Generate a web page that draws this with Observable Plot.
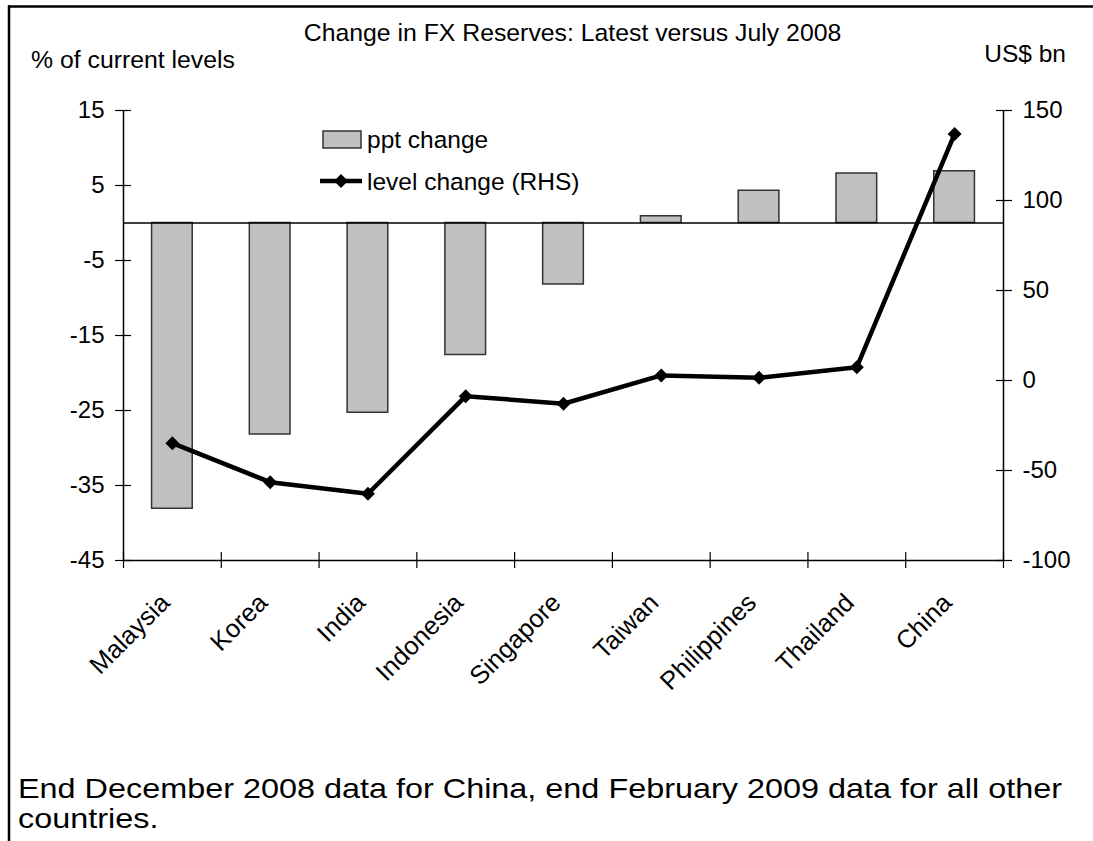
<!DOCTYPE html>
<html>
<head>
<meta charset="utf-8">
<script src="https://cdn.jsdelivr.net/npm/d3@7"></script>
<script src="https://cdn.jsdelivr.net/npm/@observablehq/plot@0.6"></script>
<style>
  html, body { margin: 0; padding: 0; background: #fff; }
  #wrap { position: relative; width: 1093px; height: 841px; overflow: hidden; background: #fff; font-family: "Liberation Sans", Arial, sans-serif; }
  #chart { position: absolute; left: 0; top: 0; }
  #overlay { position: absolute; left: 0; top: 0; pointer-events: none; }
</style>
</head>
<body>
<div id="wrap">
  <div id="chart"></div>
  <svg id="overlay" width="1093" height="841"></svg>
</div>
<script>
// ---- data ----
const categories = ["Malaysia", "Korea", "India", "Indonesia", "Singapore", "Taiwan", "Philippines", "Thailand", "China"];
const pptChange = [-38.1, -28.2, -25.3, -17.6, -8.2, 0.9, 4.3, 6.6, 6.9];
const levelChange = [-34.8, -56.5, -62.9, -8.7, -12.9, 2.8, 1.5, 7.4, 137];
const leftTicks = [-45, -35, -25, -15, -5, 5, 15];
const rightTicks = [-100, -50, 0, 50, 100, 150];
const leftDomain = [-45, 15];
const rightDomain = [-100, 150];

const title = "Change in FX Reserves: Latest versus July 2008";
const leftUnit = "% of current levels";
const rightUnit = "US$ bn";
const legendBar = "ppt change";
const legendLine = "level change (RHS)";
const captionLines = ["End December 2008 data for China, end February 2009 data for all other", "countries."];

// map right-hand values onto the left scale
const toLeft = r => leftDomain[0] + (r - rightDomain[0]) * (leftDomain[1] - leftDomain[0]) / (rightDomain[1] - rightDomain[0]);
const toRight = l => rightDomain[0] + (l - leftDomain[0]) * (rightDomain[1] - rightDomain[0]) / (leftDomain[1] - leftDomain[0]);

const data = categories.map((c, i) => ({i, c, ppt: pptChange[i], level: levelChange[i]}));

const W = 1093, H = 700;
const mL = 123, mR = 90, mT = 110, mB = 140;
const step = (W - mL - mR) / categories.length;
const barInset = step * 0.292;

const plot = Plot.plot({
  width: W, height: H,
  marginLeft: mL, marginRight: mR, marginTop: mT, marginBottom: mB,
  style: {fontFamily: "'Liberation Sans', Arial, sans-serif", fontSize: "24px", color: "#000", background: "transparent"},
  x: {type: "linear", domain: [0, categories.length], axis: null},
  y: {domain: leftDomain, axis: null},
  marks: [
    Plot.rectY(data, {x1: d => d.i, x2: d => d.i + 1, y1: 0, y2: d => d.ppt, fill: "#c0c0c0", stroke: "#333", strokeWidth: 1.5, insetLeft: barInset, insetRight: barInset}),
    Plot.ruleY([0], {stroke: "#000", strokeWidth: 1.5}),
    Plot.ruleY([leftDomain[0]], {stroke: "#000", strokeWidth: 1.5}),
    Plot.ruleX([0, categories.length], {stroke: "#000", strokeWidth: 1.5}),
    // left axis: crossing ticks + labels
    Plot.axisY({ticks: leftTicks, anchor: "left", tickSize: 16, dx: 8, fill: "none", stroke: "#000", strokeWidth: 1.2, tickFormat: () => ""}),
    Plot.axisY({ticks: leftTicks, anchor: "left", tickSize: 0, tickPadding: 19, tickFormat: d => String(d), fill: "#000"}),
    // right axis
    Plot.axisY({ticks: rightTicks.map(toLeft), anchor: "right", tickSize: 16, dx: -8, fill: "none", stroke: "#000", strokeWidth: 1.2, tickFormat: () => ""}),
    Plot.axisY({ticks: rightTicks.map(toLeft), anchor: "right", tickSize: 0, tickPadding: 19, tickFormat: v => String(Math.round(toRight(v))), fill: "#000"}),
    // x axis: boundary ticks + rotated category labels
    Plot.axisX({ticks: d3.range(categories.length + 1), anchor: "bottom", tickSize: 16, dy: -8, fill: "none", stroke: "#000", strokeWidth: 1.2, tickFormat: () => ""}),
    Plot.axisX({ticks: categories.map((_, i) => i + 0.5), anchor: "bottom", tickSize: 0, tickPadding: 38, dx: -7, tickRotate: -45, fontSize: 25.5, tickFormat: v => categories[Math.floor(v)], fill: "#000"}),
    // level change line
    Plot.line(data, {x: d => d.i + 0.5, y: d => toLeft(d.level), stroke: "#000", strokeWidth: 4.5}),
    Plot.dot(data, {x: d => d.i + 0.5, y: d => toLeft(d.level), symbol: "diamond2", r: 6.3, fill: "#000", stroke: "none"})
  ]
});
document.getElementById("chart").appendChild(plot);

// ---- overlay: titles, legend, caption, frame ----
const ov = d3.select("#overlay");
const font = "'Liberation Sans', Arial, sans-serif";
ov.append("line").attr("x1", 8).attr("x2", W).attr("y1", 6.5).attr("y2", 6.5).attr("stroke", "#000").attr("stroke-width", 2.5);
ov.append("line").attr("x1", 9).attr("x2", 9).attr("y1", 5.3).attr("y2", 841).attr("stroke", "#000").attr("stroke-width", 2.5);

ov.append("text").attr("x", 572.5).attr("y", 41).attr("text-anchor", "middle").attr("font-family", font).attr("font-size", 24.8).attr("fill", "#000").text(title);
ov.append("text").attr("x", 31).attr("y", 68).attr("font-family", font).attr("font-size", 24.8).attr("fill", "#000").text(leftUnit);
ov.append("text").attr("x", 1066).attr("y", 62).attr("text-anchor", "end").attr("font-family", font).attr("font-size", 24.5).attr("fill", "#000").text(rightUnit);

// legend
ov.append("rect").attr("x", 323).attr("y", 131).attr("width", 38).attr("height", 17).attr("fill", "#c0c0c0").attr("stroke", "#333").attr("stroke-width", 1.5);
ov.append("text").attr("x", 367).attr("y", 147.5).attr("font-family", font).attr("font-size", 24.5).attr("fill", "#000").text(legendBar);
ov.append("line").attr("x1", 320).attr("x2", 362).attr("y1", 181).attr("y2", 181).attr("stroke", "#000").attr("stroke-width", 4.5);
ov.append("path").attr("d", d3.symbol(d3.symbolDiamond2, Math.PI * 40)()).attr("transform", "translate(341,181)").attr("fill", "#000");
ov.append("text").attr("x", 367).attr("y", 190).attr("font-family", font).attr("font-size", 24.5).attr("fill", "#000").text(legendLine);

// caption: slightly wide lettering, as in the reference
const capSize = 28.5;
const capNodes = captionLines.map((t, k) =>
  ov.append("text").attr("font-family", font).attr("font-size", capSize).attr("fill", "#000").text(t)
);
const w0 = capNodes[0].node().getComputedTextLength();
const sx = w0 > 0 ? 1044 / w0 : 1;
capNodes.forEach((n, k) => n.attr("transform", `translate(18,${798 + k * 30}) scale(${sx},1)`));
</script>
</body>
</html>
